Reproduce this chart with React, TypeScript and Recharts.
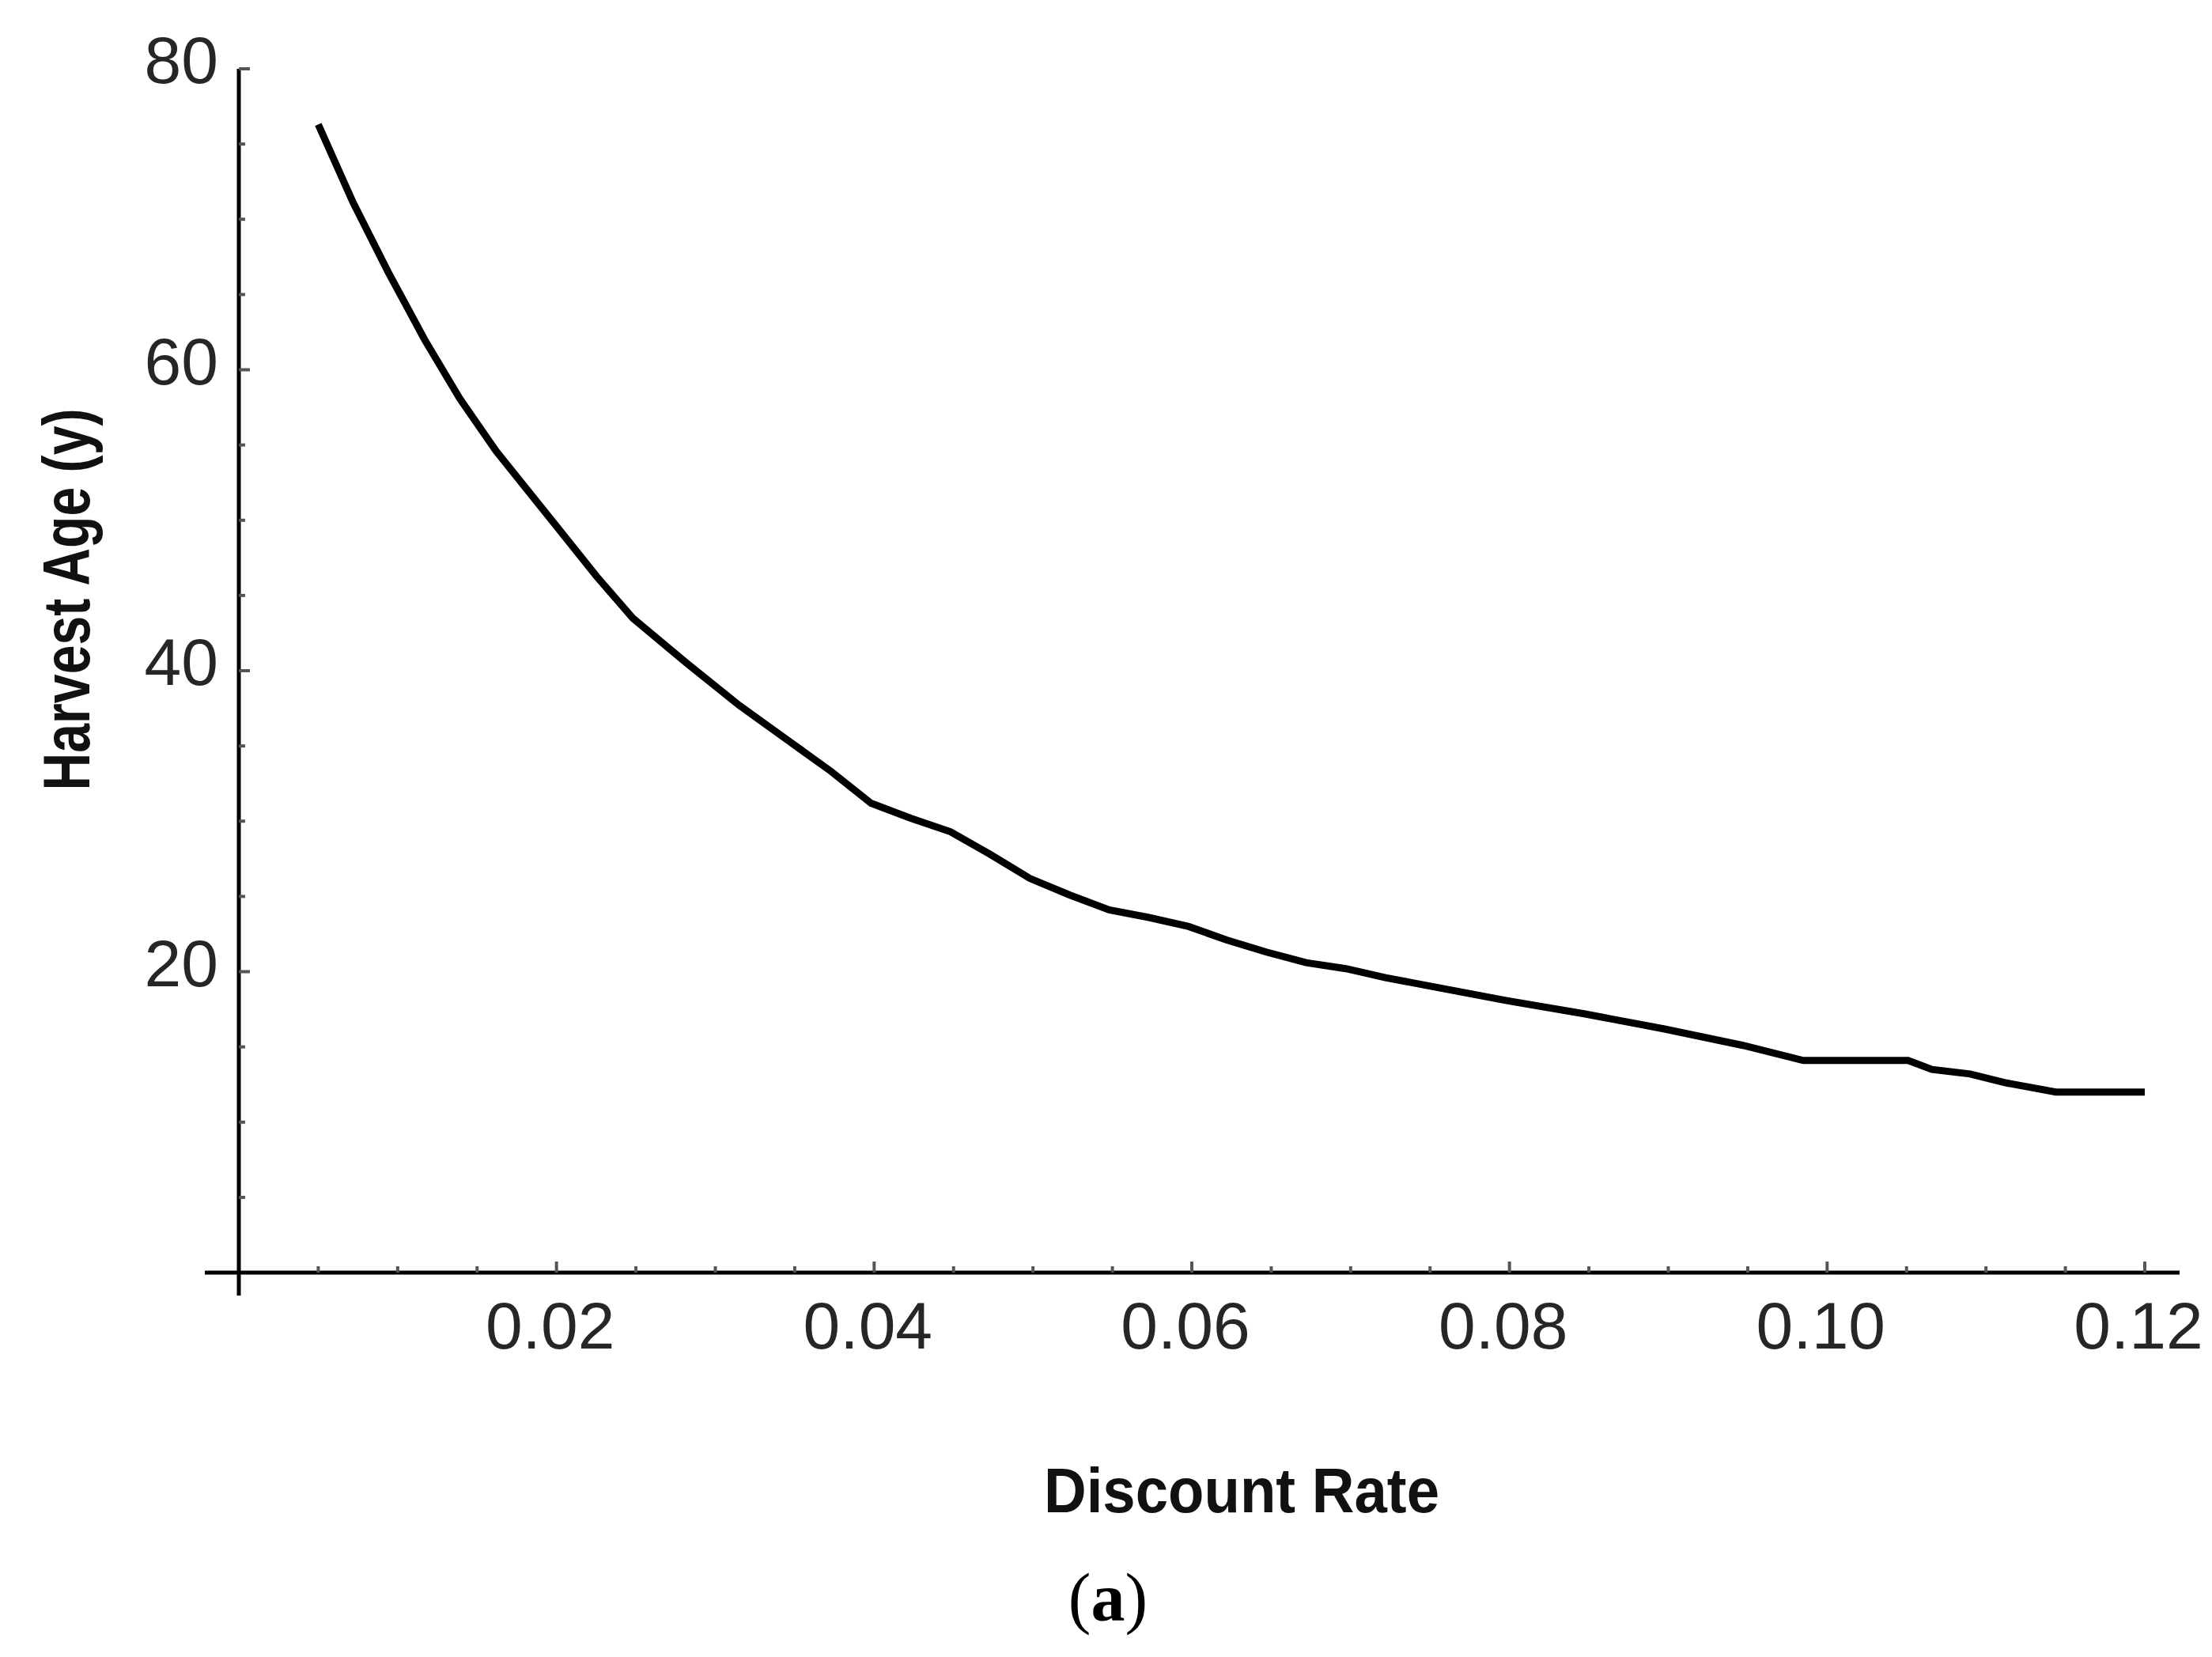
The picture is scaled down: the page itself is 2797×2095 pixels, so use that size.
import { LineChart, Line, XAxis, YAxis, ReferenceLine, Label } from "recharts";

// discount rate (x) and optimal harvest age in years (y)
const discountRate = [
  0.005, 0.0072, 0.0094, 0.0117, 0.0139, 0.0162, 0.0184, 0.02, 0.0225, 0.0248,
  0.0282, 0.0315, 0.0348, 0.0373, 0.0398, 0.0423, 0.0448, 0.0473, 0.0498, 0.0523,
  0.0548, 0.0573, 0.0598, 0.0622, 0.0647, 0.0672, 0.0697, 0.0722, 0.0747, 0.0797,
  0.0847, 0.0897, 0.0947, 0.0985, 0.1051, 0.1066, 0.109, 0.1113, 0.1144, 0.12,
];
const harvestAge = [
  76.3, 71.1, 66.5, 62.0, 58.1, 54.6, 51.7, 49.6, 46.3, 43.5,
  40.5, 37.7, 35.2, 33.3, 31.2, 30.2, 29.3, 27.8, 26.2, 25.1,
  24.1, 23.6, 23.0, 22.1, 21.3, 20.6, 20.2, 19.6, 19.1, 18.1,
  17.2, 16.2, 15.1, 14.1, 14.1, 13.5, 13.2, 12.6, 12.0, 12.0,
];

const xMajorTicks = [0.02, 0.04, 0.06, 0.08, 0.1, 0.12];
const xTickLabels = ["0.02", "0.04", "0.06", "0.08", "0.10", "0.12"];
const xAllTicks = [
  0.005, 0.01, 0.015, 0.02, 0.025, 0.03, 0.035, 0.04, 0.045, 0.05, 0.055, 0.06,
  0.065, 0.07, 0.075, 0.08, 0.085, 0.09, 0.095, 0.1, 0.105, 0.11, 0.115, 0.12,
];
const yMajorTicks = [20, 40, 60, 80];
const yTickLabels = ["20", "40", "60", "80"];
const yAllTicks = [5, 10, 15, 20, 25, 30, 35, 40, 45, 50, 55, 60, 65, 70, 75, 80];

const data = discountRate.map((r, i) => ({ r, age: harvestAge[i] }));

const W = 2797;
const H = 2095;
const SANS = "'Liberation Sans', Arial, sans-serif";

function XTick({ x, y, payload }: any) {
  const idx = xMajorTicks.indexOf(payload.value);
  const major = idx >= 0;
  return (
    <g>
      <line x1={x} x2={x} y1={y} y2={y - (major ? 14 : 8)} stroke="#555" strokeWidth={4} />
      {major && (
        <text x={x - 8} y={y + 96} textAnchor="middle" fontFamily={SANS} fontSize={84} fill="#262626">
          {xTickLabels[idx]}
        </text>
      )}
    </g>
  );
}

function YTick({ x, y, payload }: any) {
  const idx = yMajorTicks.indexOf(payload.value);
  const major = idx >= 0;
  return (
    <g>
      <line x1={x} x2={x + (major ? 14 : 8)} y1={y} y2={y} stroke="#555" strokeWidth={4} />
      {major && (
        <text x={x - 26} y={y + 18} textAnchor="end" fontFamily={SANS} fontSize={84} fill="#262626">
          {yTickLabels[idx]}
        </text>
      )}
    </g>
  );
}

function XTitle({ viewBox }: any) {
  return (
    <text
      x={viewBox.x + 1268}
      y={viewBox.y + 303}
      textAnchor="middle"
      fontFamily={SANS}
      fontWeight="bold"
      fontSize={80}
      fill="#111"
      textLength={500}
      lengthAdjust="spacingAndGlyphs"
    >
      Discount Rate
    </text>
  );
}

function YTitle({ viewBox }: any) {
  const cx = viewBox.x - 158;
  const cy = viewBox.y + 671;
  return (
    <text
      x={cx}
      y={cy}
      transform={`rotate(-90 ${cx} ${cy})`}
      textAnchor="middle"
      dominantBaseline="central"
      fontFamily={SANS}
      fontWeight="bold"
      fontSize={84}
      fill="#111"
      textLength={483}
      lengthAdjust="spacingAndGlyphs"
    >
      Harvest Age (y)
    </text>
  );
}

export default function App() {
  return (
    <div style={{ position: "absolute", left: 0, top: 0, width: W, height: H, background: "#fff" }}>
      <LineChart
        width={W}
        height={H}
        data={data}
        margin={{ top: 87, right: 41, bottom: 456, left: 242 }}
      >
        <XAxis
          dataKey="r"
          type="number"
          domain={[0, 0.12219]}
          allowDataOverflow
          ticks={xAllTicks}
          interval={0}
          height={30}
          axisLine={false}
          tickLine={false}
          tickSize={0}
          tickMargin={0}
          tick={<XTick />}
          label={<Label content={<XTitle />} />}
        />
        <YAxis
          type="number"
          domain={[0, 80]}
          allowDataOverflow
          ticks={yAllTicks}
          interval={0}
          width={60}
          axisLine={false}
          tickLine={false}
          tickSize={0}
          tickMargin={0}
          tick={<YTick />}
          label={<Label content={<YTitle />} />}
        />
        <ReferenceLine
          segment={[{ x: -0.00214, y: 0 }, { x: 0.12219, y: 0 }]}
          stroke="#000"
          strokeWidth={5}
          ifOverflow="visible"
        />
        <ReferenceLine
          segment={[{ x: 0, y: -1.52 }, { x: 0, y: 80 }]}
          stroke="#000"
          strokeWidth={5}
          ifOverflow="visible"
        />
        <Line
          type="linear"
          dataKey="age"
          stroke="#000"
          strokeWidth={9}
          dot={false}
          activeDot={false}
          isAnimationActive={false}
        />
      </LineChart>
      <svg width={W} height={H} style={{ position: "absolute", left: 0, top: 0, pointerEvents: "none" }}>
        <text x={1401} y={2049} textAnchor="middle" fontFamily="'Liberation Serif', 'Times New Roman', serif" fontSize={86} fill="#000">
          (<tspan fontWeight="bold">a</tspan>)
        </text>
      </svg>
    </div>
  );
}
